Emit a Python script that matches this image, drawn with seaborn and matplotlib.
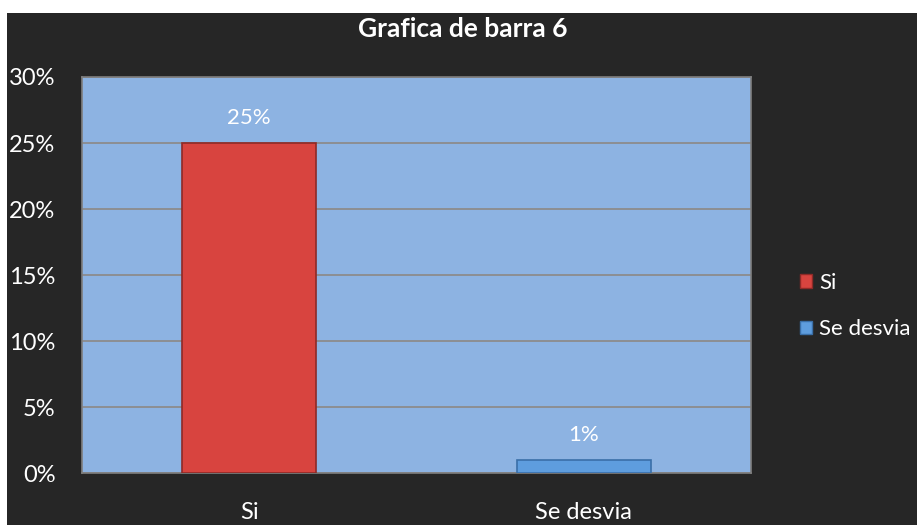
import matplotlib
matplotlib.use("Agg")
import matplotlib.pyplot as plt
import matplotlib.patches as mpatches
import seaborn as sns

# data
categories = ["Si", "Se desvia"]
values = [25, 1]
bar_colors = ["#D8443F", "#5E9DDE"]
edge_colors = ["#8E2A27", "#3A6FA8"]
yticks = [0, 5, 10, 15, 20, 25, 30]

sns.set_theme(style="white")
plt.rcParams["font.family"] = ["Lato", "DejaVu Sans"]

W, H = 917, 525
fig = plt.figure(figsize=(W / 100, H / 100), dpi=100, facecolor="#262626")

# thin white margin on top/left like the screenshot
fig.patches.append(mpatches.Rectangle((0, (H - 13) / H), 1, 13 / H, transform=fig.transFigure,
                                      facecolor="white", edgecolor="none", zorder=-5))
fig.patches.append(mpatches.Rectangle((0, 0), 7 / W, 1, transform=fig.transFigure,
                                      facecolor="white", edgecolor="none", zorder=-5))

ax = fig.add_axes([82 / W, (H - 473) / H, 669 / W, 396 / H])
ax.set_facecolor("#8DB3E2")

sns.barplot(x=categories, y=values, hue=categories, palette=bar_colors, saturation=1,
            width=0.4, ax=ax, legend=False, zorder=3)
for p, ec in zip(ax.patches, edge_colors):
    p.set_edgecolor(ec)
    p.set_linewidth(1.2)

for c in ax.containers:
    ax.bar_label(c, labels=[f"{v:.0f}%" for v in c.datavalues],
                 color="white", fontsize=16, padding=11)

ax.set_xlim(-0.5, 1.5)
ax.set_ylim(0, 30)
ax.set_yticks(yticks)
ax.set_yticklabels([f"{t}%" for t in yticks])
ax.yaxis.grid(True, color="#8C8C8C", linewidth=1.3, zorder=0)
ax.set_axisbelow(True)
ax.tick_params(axis="y", colors="white", labelsize=17, pad=19, length=0)
ax.tick_params(axis="x", colors="white", labelsize=17, pad=21, length=0)
ax.set_xlabel("")
ax.set_ylabel("")
for s in ax.spines.values():
    s.set_color("#7F7F7F")
    s.set_linewidth(1.2)

fig.text(463 / W, 1 - 29 / H, "Grafica de barra 6", color="white",
         fontsize=19, fontweight="bold", ha="center", va="center")

handles = [mpatches.Patch(facecolor=bar_colors[i], edgecolor=edge_colors[i], label=categories[i])
           for i in range(len(categories))]
leg = fig.legend(handles=handles, loc="center left", bbox_to_anchor=(780 / W, 1 - 306 / H),
                 frameon=False, fontsize=16, labelcolor="white", handlelength=0.55,
                 handleheight=0.55, handletextpad=0.3, labelspacing=1.2)

fig.savefig("out.png", dpi=100, facecolor="#262626")
